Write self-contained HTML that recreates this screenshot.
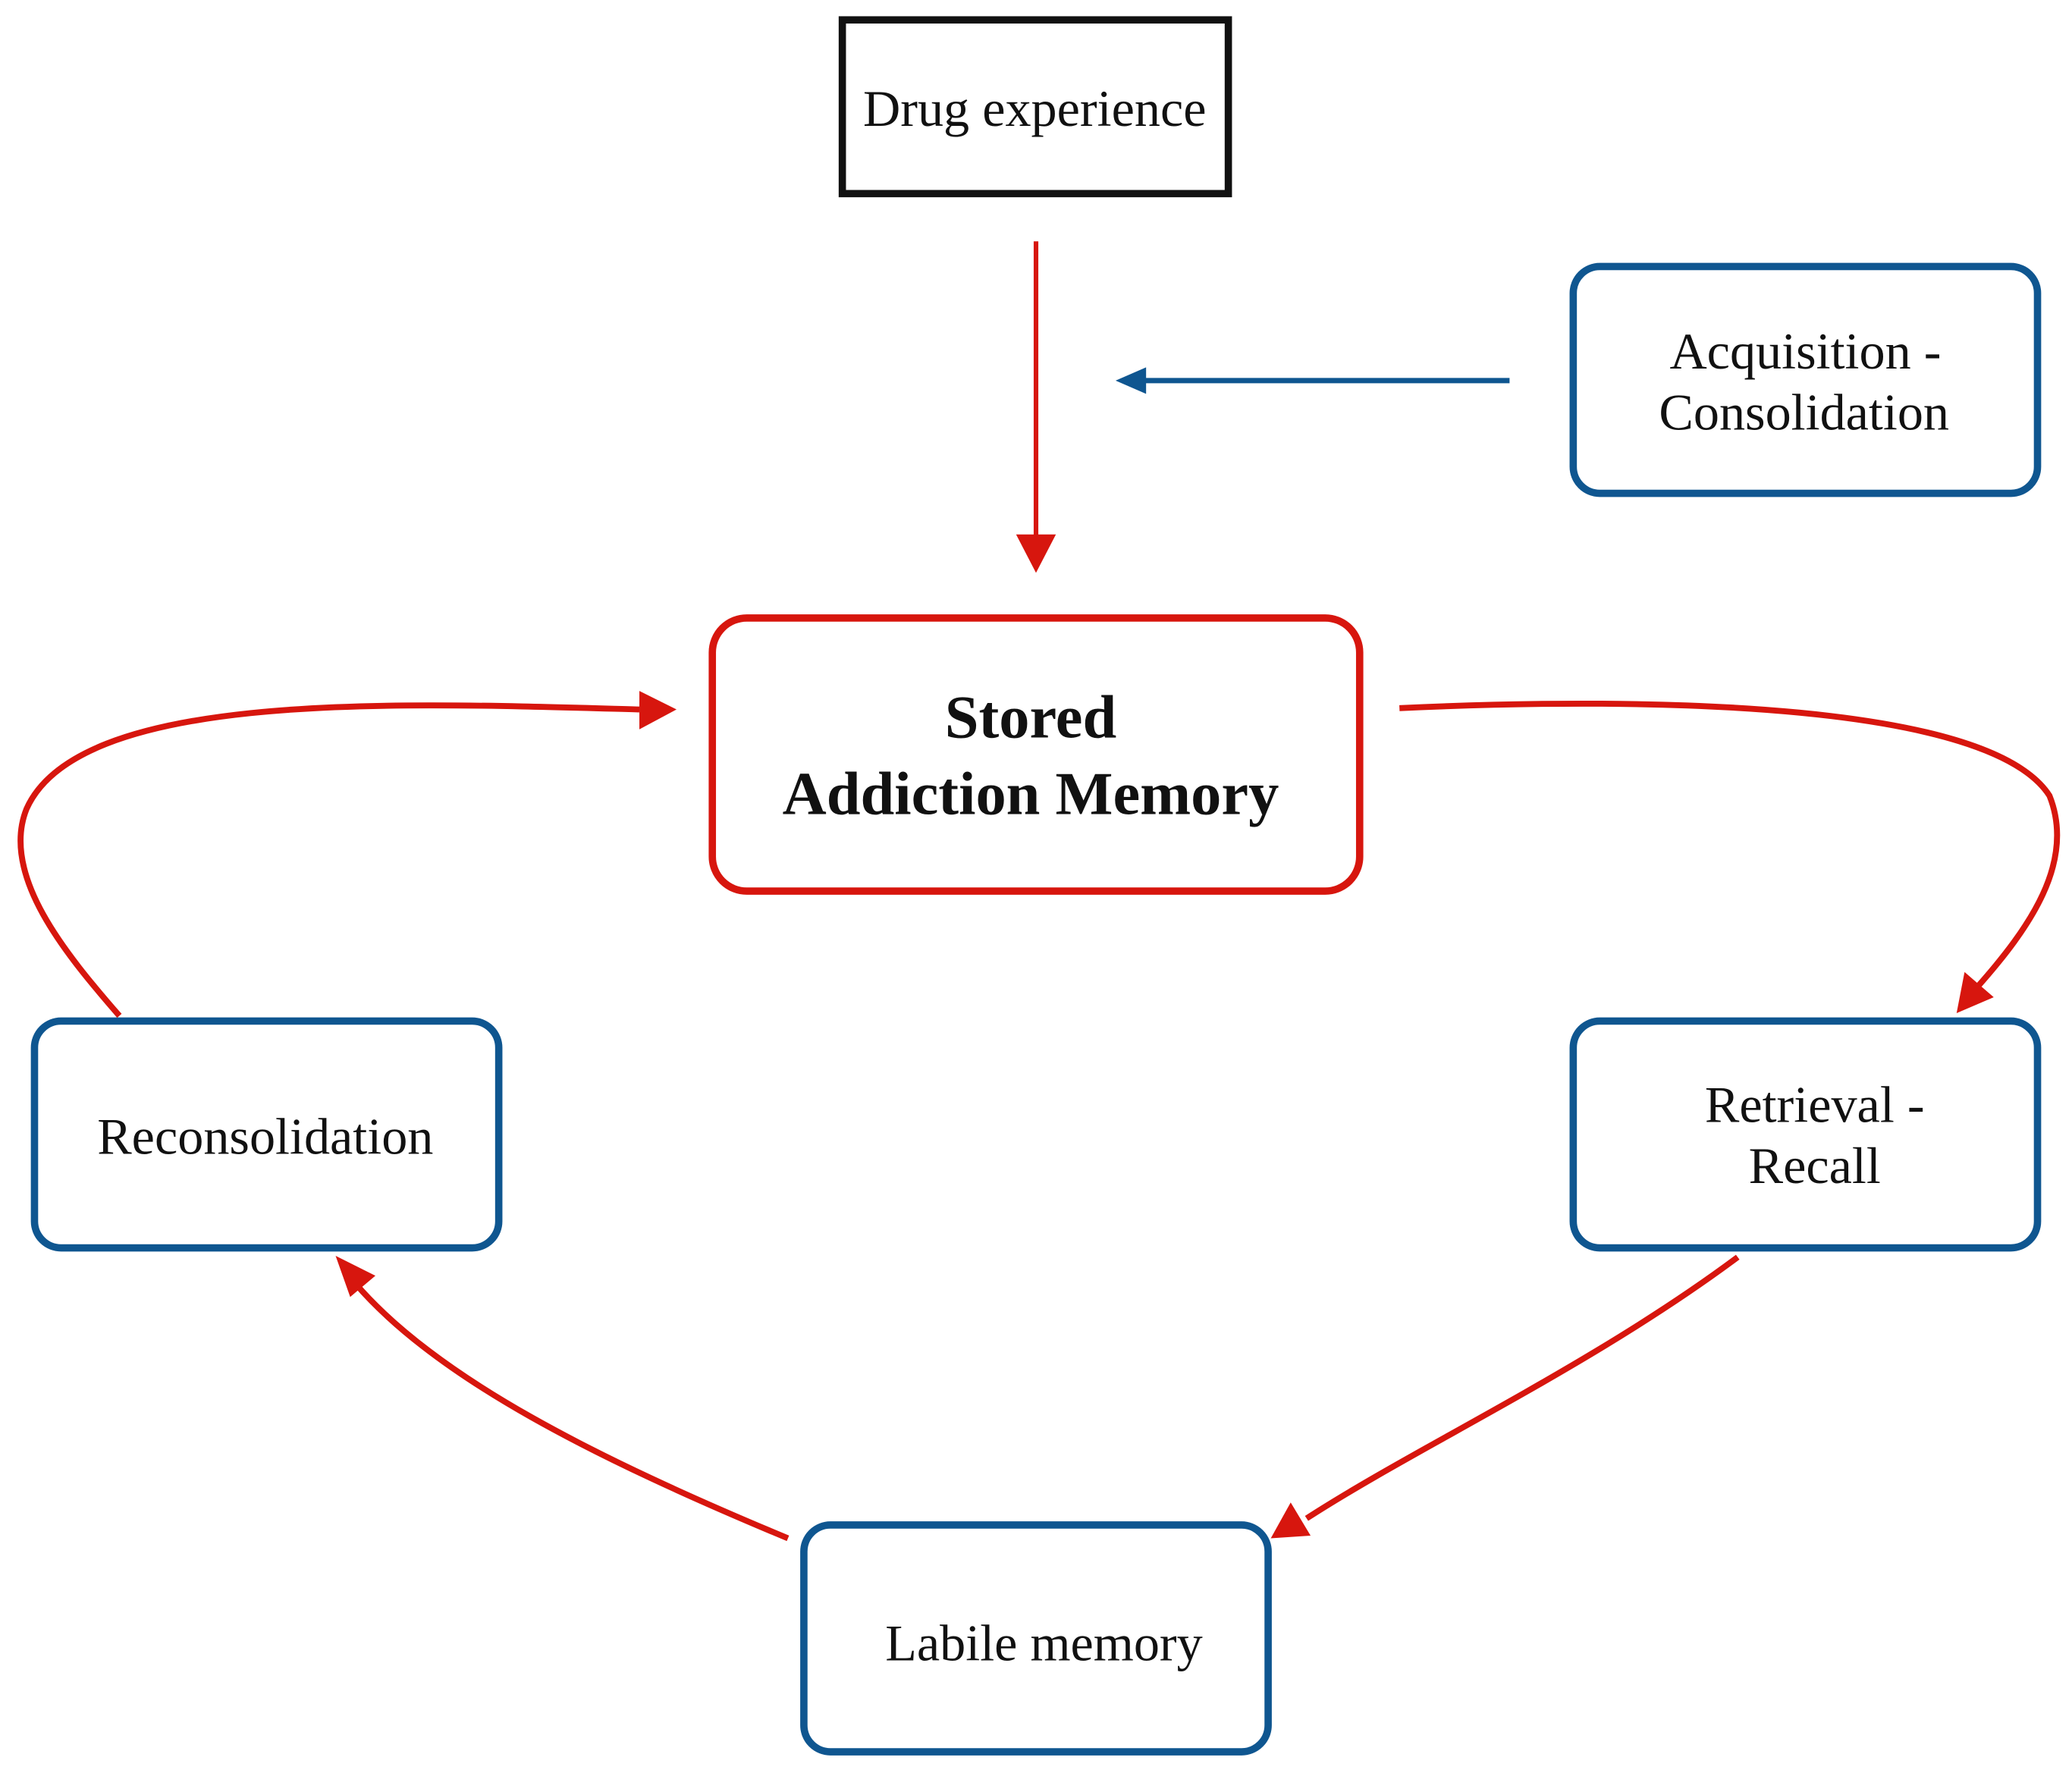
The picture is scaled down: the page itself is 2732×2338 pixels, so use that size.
<!DOCTYPE html>
<html><head><meta charset="utf-8"><style>
html,body{margin:0;padding:0;background:#fff;}
svg{display:block}
text{font-family:"Liberation Serif",serif;fill:#111;}
</style></head><body>
<svg width="2732" height="2338" viewBox="0 0 1562 1337" preserveAspectRatio="none" xmlns="http://www.w3.org/2000/svg">
<g fill="none" stroke-linecap="butt">
<rect x="635" y="15" width="291" height="131" stroke="#111" stroke-width="5.5"/>
<rect x="1186" y="201" width="350" height="171" rx="20" stroke="#0f5690" stroke-width="5.5"/>
<rect x="537" y="466" width="488" height="206" rx="26" stroke="#d7160e" stroke-width="5.5"/>
<rect x="26" y="770" width="350" height="171" rx="20" stroke="#0f5690" stroke-width="5.5"/>
<rect x="1186" y="770" width="350" height="171" rx="20" stroke="#0f5690" stroke-width="5.5"/>
<rect x="606" y="1150" width="350" height="171" rx="20" stroke="#0f5690" stroke-width="5.5"/>
<line x1="781" y1="182" x2="781" y2="405" stroke="#d7160e" stroke-width="3.5"/>
<line x1="1138" y1="287" x2="860" y2="287" stroke="#0f5690" stroke-width="4"/>
<path d="M90,766 C50,720 0,660 20,610 C60,520 300,530 482,535" stroke="#d7160e" stroke-width="4.5"/>
<path d="M1055,534 C1250,525 1500,530 1545,600 C1565,650 1530,700 1490,745" stroke="#d7160e" stroke-width="4.5"/>
<path d="M1310,948 C1200,1030 1070,1090 985,1145" stroke="#d7160e" stroke-width="4.5"/>
<path d="M594,1160 C450,1100 330,1040 268,968" stroke="#d7160e" stroke-width="4.5"/>
</g>
<g fill="#d7160e">
<path d="M766,403 L796,403 L781,432 z"/>
<path d="M841,287 L864,277 L864,297 z" fill="#0f5690"/>
<path d="M482,521 L510,535 L482,550 z"/>
<path d="M1475,764 L1481,733 L1503,752 z"/>
<path d="M958,1160 L973,1133 L988,1158 z"/>
<path d="M253,947 L283,962 L264,978 z"/>
</g>
<text x="780" y="95" font-size="39" text-anchor="middle">Drug experience</text>
<text x="1361" y="278" font-size="39" text-anchor="middle">Acquisition -</text>
<text x="1360" y="324" font-size="39" text-anchor="middle">Consolidation</text>
<text x="777" y="556" font-size="46" font-weight="bold" text-anchor="middle">Stored</text>
<text x="777" y="614" font-size="46" font-weight="bold" text-anchor="middle">Addiction Memory</text>
<text x="200" y="870" font-size="39" text-anchor="middle">Reconsolidation</text>
<text x="1368" y="846" font-size="39" text-anchor="middle">Retrieval -</text>
<text x="1368" y="892" font-size="39" text-anchor="middle">Recall</text>
<text x="787" y="1252" font-size="39" text-anchor="middle">Labile memory</text>
</svg>
</body></html>
